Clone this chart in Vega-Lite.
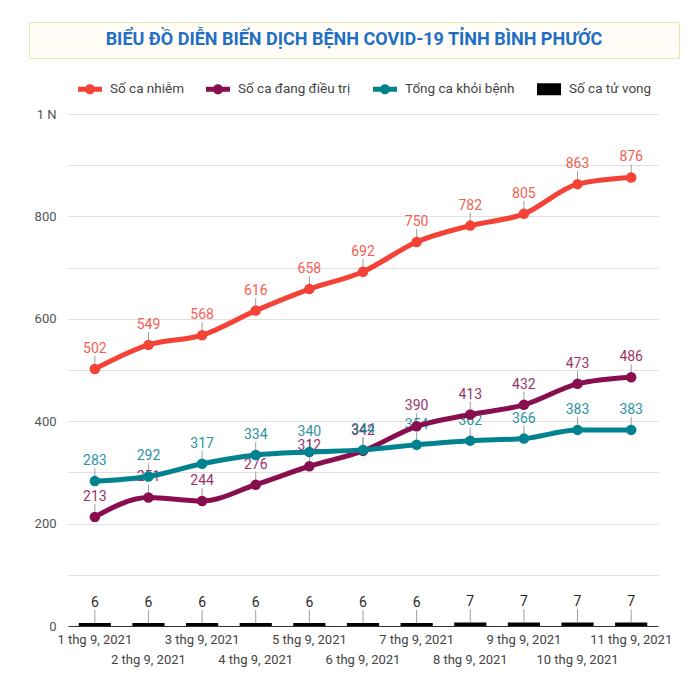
{
  "$schema": "https://vega.github.io/schema/vega-lite/v6.json",
  "background": "white",
  "padding": {"top": 21, "left": 28, "right": 10, "bottom": 8},
  "config": {"font": "Roboto", "view": {"stroke": null}},
  "spacing": 49,
  "vconcat": [
    {
      "width": 650,
      "height": 36,
      "view": {"fill": "#fffdf6", "stroke": "#f1e2b4", "strokeWidth": 1},
      "data": {"values": [{"t": "BIỂU ĐỒ DIỄN BIẾN DỊCH BỆNH COVID-19 TỈNH BÌNH PHƯỚC"}]},
      "mark": {"type": "text", "font": "Roboto", "fontWeight": "bold", "fontSize": 18, "color": "#1f6fc5", "baseline": "middle", "align": "center"},
      "encoding": {"text": {"field": "t", "type": "nominal"}}
    },
    {
      "spacing": 4,
      "hconcat": [
        {
          "width": 1,
          "height": 1,
          "data": {"values": []},
          "mark": {"type": "point", "opacity": 0}
        },
        {
          "width": 590,
          "height": 512,
          "data": {"values": [
            {"d": "1 thg 9, 2021", "s": "Số ca nhiễm", "v": 502},
            {"d": "1 thg 9, 2021", "s": "Số ca đang điều trị", "v": 213},
            {"d": "1 thg 9, 2021", "s": "Tổng ca khỏi bệnh", "v": 283},
            {"d": "1 thg 9, 2021", "s": "Số ca tử vong", "v": 6},
            {"d": "2 thg 9, 2021", "s": "Số ca nhiễm", "v": 549},
            {"d": "2 thg 9, 2021", "s": "Số ca đang điều trị", "v": 251},
            {"d": "2 thg 9, 2021", "s": "Tổng ca khỏi bệnh", "v": 292},
            {"d": "2 thg 9, 2021", "s": "Số ca tử vong", "v": 6},
            {"d": "3 thg 9, 2021", "s": "Số ca nhiễm", "v": 568},
            {"d": "3 thg 9, 2021", "s": "Số ca đang điều trị", "v": 244},
            {"d": "3 thg 9, 2021", "s": "Tổng ca khỏi bệnh", "v": 317},
            {"d": "3 thg 9, 2021", "s": "Số ca tử vong", "v": 6},
            {"d": "4 thg 9, 2021", "s": "Số ca nhiễm", "v": 616},
            {"d": "4 thg 9, 2021", "s": "Số ca đang điều trị", "v": 276},
            {"d": "4 thg 9, 2021", "s": "Tổng ca khỏi bệnh", "v": 334},
            {"d": "4 thg 9, 2021", "s": "Số ca tử vong", "v": 6},
            {"d": "5 thg 9, 2021", "s": "Số ca nhiễm", "v": 658},
            {"d": "5 thg 9, 2021", "s": "Số ca đang điều trị", "v": 312},
            {"d": "5 thg 9, 2021", "s": "Tổng ca khỏi bệnh", "v": 340},
            {"d": "5 thg 9, 2021", "s": "Số ca tử vong", "v": 6},
            {"d": "6 thg 9, 2021", "s": "Số ca nhiễm", "v": 692},
            {"d": "6 thg 9, 2021", "s": "Số ca đang điều trị", "v": 342},
            {"d": "6 thg 9, 2021", "s": "Tổng ca khỏi bệnh", "v": 344},
            {"d": "6 thg 9, 2021", "s": "Số ca tử vong", "v": 6},
            {"d": "7 thg 9, 2021", "s": "Số ca nhiễm", "v": 750},
            {"d": "7 thg 9, 2021", "s": "Số ca đang điều trị", "v": 390},
            {"d": "7 thg 9, 2021", "s": "Tổng ca khỏi bệnh", "v": 354},
            {"d": "7 thg 9, 2021", "s": "Số ca tử vong", "v": 6},
            {"d": "8 thg 9, 2021", "s": "Số ca nhiễm", "v": 782},
            {"d": "8 thg 9, 2021", "s": "Số ca đang điều trị", "v": 413},
            {"d": "8 thg 9, 2021", "s": "Tổng ca khỏi bệnh", "v": 362},
            {"d": "8 thg 9, 2021", "s": "Số ca tử vong", "v": 7},
            {"d": "9 thg 9, 2021", "s": "Số ca nhiễm", "v": 805},
            {"d": "9 thg 9, 2021", "s": "Số ca đang điều trị", "v": 432},
            {"d": "9 thg 9, 2021", "s": "Tổng ca khỏi bệnh", "v": 366},
            {"d": "9 thg 9, 2021", "s": "Số ca tử vong", "v": 7},
            {"d": "10 thg 9, 2021", "s": "Số ca nhiễm", "v": 863},
            {"d": "10 thg 9, 2021", "s": "Số ca đang điều trị", "v": 473},
            {"d": "10 thg 9, 2021", "s": "Tổng ca khỏi bệnh", "v": 383},
            {"d": "10 thg 9, 2021", "s": "Số ca tử vong", "v": 7},
            {"d": "11 thg 9, 2021", "s": "Số ca nhiễm", "v": 876},
            {"d": "11 thg 9, 2021", "s": "Số ca đang điều trị", "v": 486},
            {"d": "11 thg 9, 2021", "s": "Tổng ca khỏi bệnh", "v": 383},
            {"d": "11 thg 9, 2021", "s": "Số ca tử vong", "v": 7}
          ]},
          "encoding": {
            "x": {
              "field": "d", "type": "nominal", "sort": null,
              "scale": {"paddingInner": 0.4, "paddingOuter": 0.2},
              "axis": {
                "title": null, "labelAngle": 0, "labelOverlap": false, "ticks": false, "grid": false,
                "domainColor": "#333333", "domainWidth": 1,
                "labelFont": "Roboto", "labelFontSize": 13, "labelColor": "#444444",
                "labelPadding": 7, "labelBaseline": "top", "labelLineHeight": 20,
                "labelExpr": "parseInt(split(datum.label, ' ')[0]) % 2 == 0 ? ['', datum.label] : datum.label"
              }
            },
            "y": {
              "field": "v", "type": "quantitative",
              "scale": {"domain": [0, 1000], "nice": false},
              "axis": {
                "title": null, "values": [0, 100, 200, 300, 400, 500, 600, 700, 800, 900, 1000],
                "labelExpr": "datum.value % 200 == 0 ? (datum.value == 1000 ? '1 N' : datum.label) : ''",
                "grid": true, "gridColor": "#e0e0e0", "domain": false, "ticks": false,
                "labelFont": "Roboto", "labelFontSize": 13, "labelColor": "#555555", "labelPadding": 12,
                "minExtent": 30, "maxExtent": 30
              }
            },
            "color": {
              "field": "s", "type": "nominal",
              "scale": {
                "domain": ["Số ca nhiễm", "Số ca đang điều trị", "Tổng ca khỏi bệnh", "Số ca tử vong"],
                "range": ["#f44336", "#880e4f", "#00838f", "#000000"]
              },
              "legend": {
                "orient": "none", "legendX": 49, "legendY": 55, "direction": "horizontal", "title": null,
                "labelFont": "Roboto", "labelFontSize": 13.5, "labelColor": "#444444",
                "symbolSize": 576, "labelOffset": 8, "columnPadding": 22, "padding": 0,
                "encode": {"symbols": {"update": {
                  "shape": {"signal": "datum.value == 'Số ca tử vong' ? 'M-1,-0.5L1,-0.5L1,0.5L-1,0.5Z' : 'M-1,-0.2L1,-0.2L1,0.2L-1,0.2Z M0.42,0A0.42,0.42 0 1 1 -0.42,0A0.42,0.42 0 1 1 0.42,0Z'"},
                  "fill": {"signal": "datum.value == 'Số ca nhiễm' ? '#f44336' : datum.value == 'Số ca đang điều trị' ? '#880e4f' : datum.value == 'Tổng ca khỏi bệnh' ? '#00838f' : '#000000'"},
                  "stroke": {"value": "transparent"},
                  "strokeWidth": {"value": 0},
                  "opacity": {"value": 1},
                  "fillOpacity": {"value": 1}
                }}}
              }
            }
          },
          "layer": [
            {
              "transform": [{"filter": "datum.s == 'Số ca tử vong'"}],
              "mark": {"type": "bar"}
            },
            {
              "mark": {"type": "rule", "color": "#9e9e9e", "strokeWidth": 1, "y2Offset": -13},
              "encoding": {"y2": {"field": "v"}, "color": {"value": "#9e9e9e"}}
            },
            {
              "mark": {"type": "text", "dy": -20, "fontSize": 14, "font": "Roboto", "baseline": "middle", "opacity": 0.85},
              "encoding": {"text": {"field": "v", "type": "quantitative"}}
            },
            {
              "transform": [{"filter": "datum.s != 'Số ca tử vong'"}],
              "mark": {"type": "line", "strokeWidth": 5, "interpolate": "monotone"}
            },
            {
              "transform": [{"filter": "datum.s != 'Số ca tử vong'"}],
              "mark": {"type": "point", "filled": true, "size": 110, "opacity": 1}
            }
          ]
        }
      ]
    }
  ]
}
